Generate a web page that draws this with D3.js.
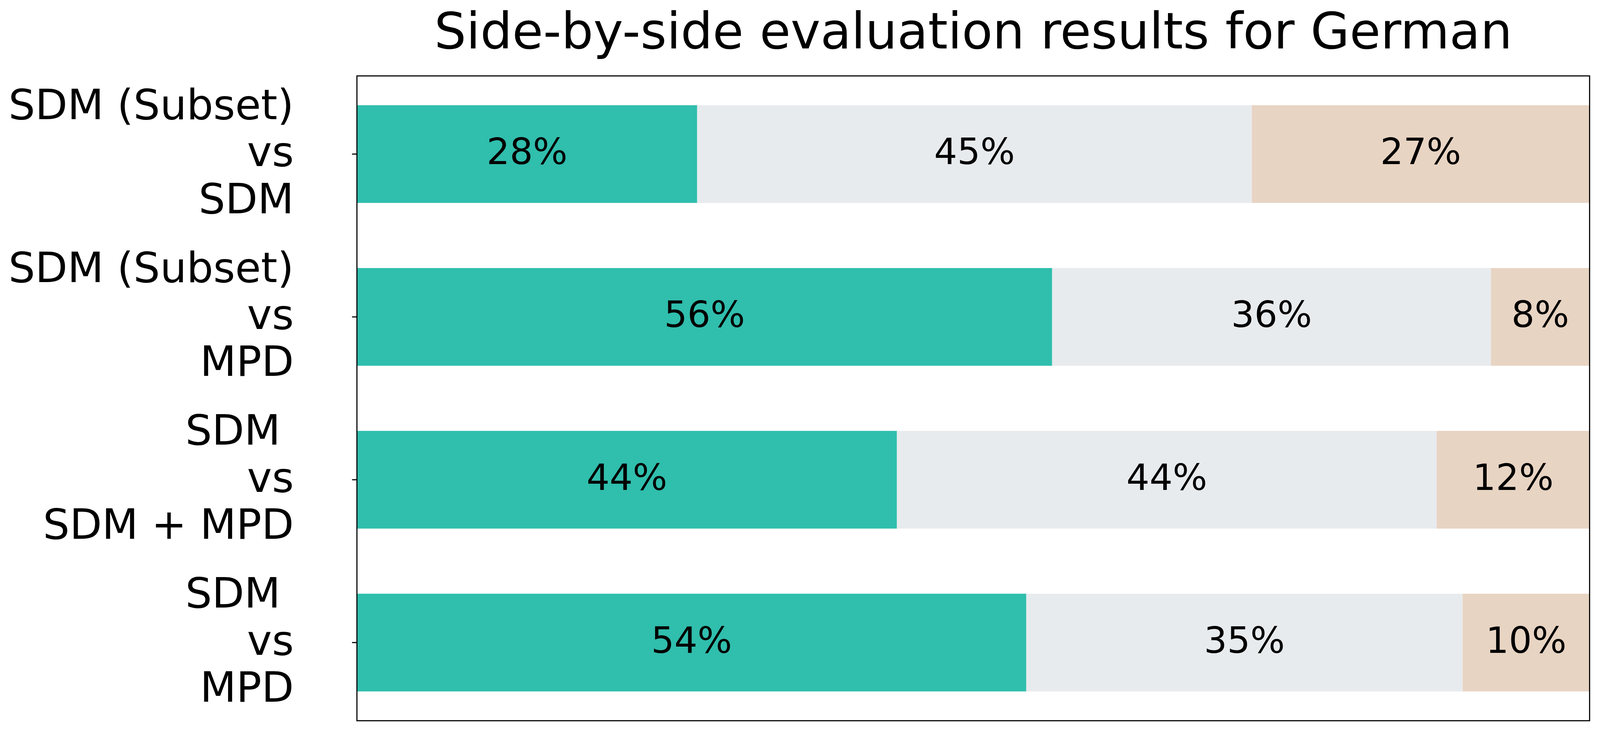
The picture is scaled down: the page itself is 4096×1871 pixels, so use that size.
<!DOCTYPE html>
<html>
<head>
<meta charset="utf-8">
<script src="https://cdn.jsdelivr.net/npm/d3@7"></script>
<style>
  html, body { margin: 0; padding: 0; background: #fff; }
  svg { display: block; font-family: "DejaVu Sans", sans-serif; }
</style>
</head>
<body>
<svg width="4096" height="1871"></svg>
<script>
var categories = [
  'SDM (Subset)\nvs\nSDM',
  'SDM (Subset)\nvs\nMPD',
  'SDM \nvs\nSDM + MPD',
  'SDM \nvs\nMPD'
];
var seriesNames = ['win', 'tie', 'loss'];
var winValues = [27.6, 56.4, 43.8, 54.3];
var tieValues = [45.0, 35.6, 43.8, 35.4];
var lossValues = [27.4, 8.0, 12.4, 10.3];
var colors = ['#30bead', '#e8ebee', '#e8d4c3'];
var title = 'Side-by-side evaluation results for German';

var s = 4096 / 4765;
var plotLeft = 1063 * s, plotRight = 4734 * s, plotTop = 226 * s, plotBottom = 2146 * s;
var lineW = 3.33 * s;

var svg = d3.select('svg');

var x = d3.scaleLinear()
  .domain([0, 100])
  .range([plotLeft, plotRight]);
var y = d3.scaleBand()
  .domain(categories)
  .range([plotTop, plotBottom])
  .paddingInner(0.4)
  .paddingOuter(0.18);

var rows = categories.map(function (c, i) {
  var vals = [winValues[i], tieValues[i], lossValues[i]];
  var start = 0;
  return vals.map(function (v, k) {
    var seg = { cat: c, k: k, x0: start, x1: start + v, v: v };
    start += v;
    return seg;
  });
});
var segs = [].concat.apply([], rows);

var g = svg.append('g');
g.selectAll('rect.bar')
  .data(segs)
  .enter()
  .append('rect')
  .attr('class', 'bar')
  .attr('x', function (d) { return x(d.x0); })
  .attr('y', function (d) { return y(d.cat); })
  .attr('width', function (d) { return x(d.x1) - x(d.x0); })
  .attr('height', y.bandwidth())
  .attr('fill', function (d) { return colors[d.k]; });

var pctSize = 108.3 * s;
g.selectAll('text.pct')
  .data(segs)
  .enter()
  .append('text')
  .attr('class', 'pct')
  .attr('x', function (d) { return (x(d.x0) + x(d.x1)) / 2; })
  .attr('y', function (d) { return y(d.cat) + y.bandwidth() / 2 + 0.28 * pctSize; })
  .attr('text-anchor', 'middle')
  .attr('font-size', pctSize)
  .attr('fill', '#000')
  .text(function (d) { return Math.round(d.v) + '%'; });

// frame
svg.append('rect')
  .attr('x', plotLeft)
  .attr('y', plotTop)
  .attr('width', plotRight - plotLeft)
  .attr('height', plotBottom - plotTop)
  .attr('fill', 'none')
  .attr('stroke', '#000')
  .attr('stroke-width', lineW);

// y ticks
var axis = svg.append('g')
  .attr('transform', 'translate(' + plotLeft + ',0)')
  .call(d3.axisLeft(y).tickSize(14.6 * s).tickFormat(''));
axis.attr('font-family', null);
axis.select('.domain').remove();
axis.selectAll('.tick line')
  .attr('stroke', '#000')
  .attr('stroke-width', lineW);

var labSize = 125 * s;
var lineGap = 140 * s;
axis.selectAll('.tick').each(function (d) {
  var lines = d.split('\n');
  var t = d3.select(this).append('text')
    .attr('text-anchor', 'end')
    .attr('font-family', '"DejaVu Sans", sans-serif')
    .attr('font-size', labSize)
    .attr('fill', '#000')
    .attr('xml:space', 'preserve')
    .style('white-space', 'pre');
  lines.forEach(function (ln, i) {
    t.append('tspan')
      .attr('x', 875 * s - plotLeft)
      .attr('y', 36 * s + (i - 1) * lineGap)
      .text(ln);
  });
});

svg.append('text')
  .attr('x', (plotLeft + plotRight) / 2)
  .attr('y', 144 * s)
  .attr('text-anchor', 'middle')
  .attr('font-size', 150 * s)
  .attr('fill', '#000')
  .text(title);
</script>
</body>
</html>
